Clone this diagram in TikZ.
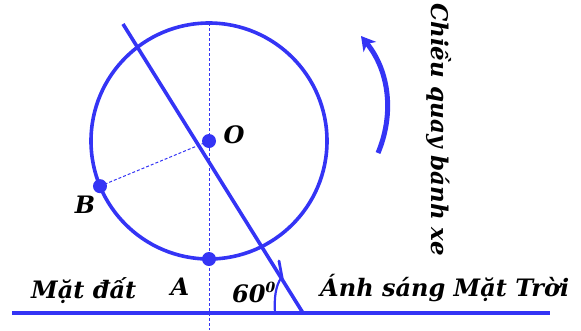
\documentclass[tikz,border=0pt]{standalone}
\usepackage{fontspec}
\setmainfont{DejaVu Serif}
\usetikzlibrary{arrows.meta,calc}
\definecolor{wblue}{RGB}{52,52,245}
\begin{document}
\begin{tikzpicture}[x=1pt,y=-1pt,
  thickline/.style={wblue, line width=3.6pt},
  guide/.style={wblue, line width=1pt, dash pattern=on 3pt off 2pt},
  dot/.style={circle, fill=wblue, inner sep=0pt, minimum size=14pt},
  lbl/.style={font=\fontsize{24}{24}\selectfont\bfseries\itshape, inner sep=0pt, text=black},
]
\useasboundingbox (0,0) rectangle (581,330);
\coordinate (O) at (209,141);
\coordinate (A) at (209,259);
\coordinate (B) at ($(O)+(157.5:118)$);
\coordinate (Vtop) at (209,23);
\coordinate (Vbot) at (209,330);
\coordinate (G1) at (12,313);
\coordinate (G2) at (550,313);
\coordinate (R1) at (123,24);
\coordinate (R2) at (303,313);
\coordinate (bt) at ($(R1)!0.886!(R2)$);
\coordinate (bend) at (279,261);
\coordinate (K1) at (378,153);
\coordinate (K2) at (361,36);
\coordinate (arcA) at (275,313);
\coordinate (arcB) at (281,278);

% guides
\draw[guide] (Vtop) -- (Vbot);
\draw[guide] (O) -- (B);
% wheel
\draw[thickline] (O) circle[radius=118];
% ground
\draw[thickline] (G1) -- (G2);
% sun ray
\draw[thickline] (R1) -- (R2);
\draw[wblue, line width=2.8pt, line cap=round] (bt) -- (bend);
% angle mark
\draw[wblue, line width=2.2pt] (arcA) .. controls (274,296) and (276,286) .. (arcB);
% rotation arrow
\draw[wblue, line width=5pt, -{Stealth[length=14pt,width=16pt,inset=4pt]}] (K1) .. controls (394,115) and (390,72) .. (K2);

% dots
\node[dot] (Od) at (O) {};
\node[dot] (Ad) at (A) {};
\node[dot] (Bd) at (B) {};

% labels
\node[lbl] (tO) at (234,135) {O};
\node[lbl] (tB) at (85,205) {B};
\node[lbl] (tA) at (180,287) {A};
\node[lbl, anchor=base west] (t60) at (232,302) {60\raisebox{10pt}{\fontsize{14}{14}\selectfont 0}};
\node[lbl, anchor=base west] (tG) at (31,298) {Mặt đất};
\node[lbl, anchor=base west] (tS) at (320,296) {Ánh sáng Mặt Trời};
\node[lbl, font=\fontsize{23}{23}\selectfont\bfseries\itshape, rotate=-90, anchor=base west] (tC) at (431,3) {Chiều quay bánh xe};
\end{tikzpicture}
\end{document}
